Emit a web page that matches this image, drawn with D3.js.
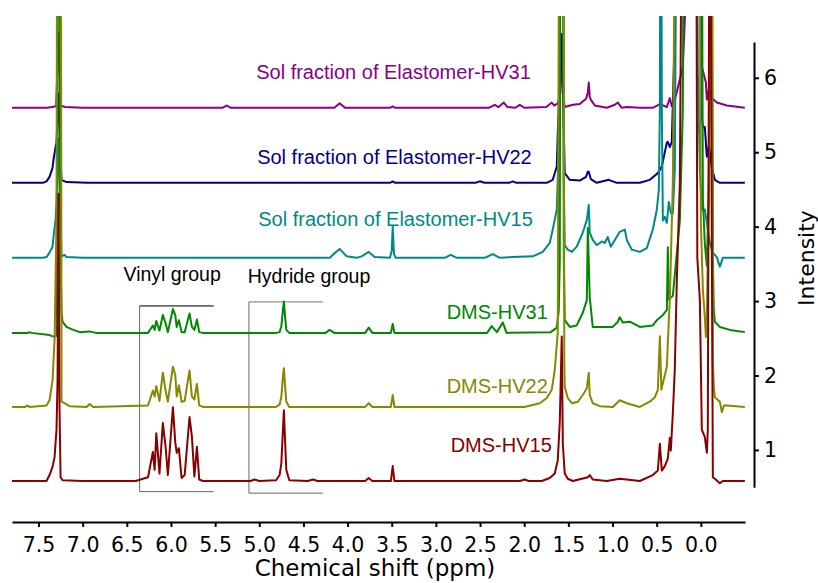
<!DOCTYPE html>
<html>
<head>
<meta charset="utf-8">
<script src="https://cdn.jsdelivr.net/npm/d3@7"></script>
<style>
  body { margin: 0; background: #fff; }
  svg { display: block; }
  .axis text { font-family: "DejaVu Sans", Verdana, sans-serif; font-size: 20.5px; fill: #000; }
  .axis path, .axis line { stroke: #000; stroke-width: 2; }
  .spectrum { fill: none; stroke-width: 2; stroke-linejoin: round; }
  .label { font-family: "Liberation Sans", Arial, sans-serif; font-size: 20px; }
  .group { font-family: "Liberation Sans", Arial, sans-serif; font-size: 19.5px; fill: #000; }
  .title { font-family: "DejaVu Sans", Verdana, sans-serif; font-size: 22px; fill: #000; }
</style>
</head>
<body>
<script>
// stacked 1H NMR spectra, intensities relative to each trace's own baseline

const names = ['Sol fraction of Elastomer-HV31', 'Sol fraction of Elastomer-HV22',
  'Sol fraction of Elastomer-HV15', 'DMS-HV31', 'DMS-HV22', 'DMS-HV15']
const colors = ['#880088', '#000088', '#008888', '#008800', '#888800', '#880000']
const offsets = [5.597, 4.589, 3.581, 2.573, 1.578, 0.583]

const xTicks = [7.5, 7.0, 6.5, 6.0, 5.5, 5.0, 4.5, 4.0, 3.5, 3.0, 2.5, 2.0, 1.5, 1.0, 0.5, 0.0]
const yTicks = [1, 2, 3, 4, 5, 6]

// vinyl multiplet (shared shift positions) for the DMS traces
const vinylPpm = [6.26, 6.205, 6.185, 6.166, 6.13, 6.092, 6.061, 6.035, 5.978, 5.951,
  5.935, 5.910, 5.88, 5.845, 5.790, 5.763, 5.735, 5.706, 5.68, 5.64]
const vinylHV31 = [0.0, 0.10, 0.04, 0.16, 0.03, 0.24, 0.13, 0.01, 0.32, 0.24,
  0.08, 0.17, 0.01, 0.01, 0.26, 0.08, 0.04, 0.18, 0.01, 0]
const vinylHV22 = [0.02, 0.22, 0.14, 0.28, 0.08, 0.46, 0.22, 0.07, 0.54, 0.43,
  0.14, 0.29, 0.07, 0.08, 0.49, 0.14, 0.10, 0.31, 0.02, 0]
const vinylHV15 = [0.05, 0.39, 0.15, 0.64, 0.10, 0.78, 0.46, 0.08, 0.99, 0.52,
  0.38, 0.44, 0.04, 0.08, 0.86, 0.60, 0.06, 0.46, 0.02, 0]

// Si-H signal
const hydridePpm = [4.81, 4.77, 4.75, 4.732, 4.721, 4.71, 4.694, 4.66]
const hydrideHV31 = [0, 0.01, 0.09, 0.31, 0.42, 0.25, 0.04, 0]
const hydrideHV22 = [0, 0.03, 0.14, 0.41, 0.52, 0.32, 0.07, 0]
const hydrideHV15 = [0.01, 0.08, 0.24, 0.69, 0.95, 0.60, 0.15, 0.01]

// [ppm, intensity]
const solHV31 = [[7.80,0],[7.40,0],[7.30,0.02],[7.273,1.0],[7.25,0.03],[7.20,0.01],[7.0,0],[5.42,0],[5.37,0.03],[5.32,0],
  [4.15,0],[4.09,0.06],[4.03,0],[3.52,0],[3.49,0.02],[3.46,0],[2.40,0],[2.334,0.04],[2.29,0.01],[2.232,0.07],[2.19,0.01],
  [2.10,0],[2.051,0.04],[2.0,0],[1.75,0.01],[1.688,0.07],[1.66,0.03],[1.62,0.06],[1.59,0.2],[1.575,0.8],[1.56,0.2],
  [1.541,0.01],[1.45,0.04],[1.371,0.05],[1.30,0.12],[1.280,0.2],[1.269,0.34],[1.258,0.15],[1.246,0.11],[1.201,0.03],
  [1.065,0],[0.974,0.04],[0.940,0.07],[0.895,0.0],[0.838,0.01],[0.691,0],[0.544,0],[0.464,0.05],[0.385,0.01],
  [0.351,0.13],[0.329,0.02],[0.295,0.1],[0.238,0.38],[0.204,0.55],[0.170,1.5],[0.147,8],[0.011,8],[-0.011,0.55],
  [-0.023,0.5],[-0.057,0.34],[-0.068,0.11],[-0.091,0.25],[-0.125,0.13],[-0.181,0.07],[-0.295,0.03],[-0.498,0]]

const solHV22 = [[7.80,0],[7.45,0],[7.409,0.02],[7.375,0.08],[7.341,0.2],[7.330,0.31],[7.307,0.48],[7.296,0.54],
  [7.273,1.2],[7.25,0.3],[7.239,0.04],[7.183,0.01],[6.95,0],[3.52,0],[3.489,0.02],[3.46,0],[2.55,0],[2.504,0.02],
  [2.45,0],[2.17,0],[2.130,0.02],[2.09,0],[1.745,0],[1.677,0.04],[1.631,0.22],[1.620,0.67],[1.575,2.0],[1.541,0.13],
  [1.484,0.04],[1.371,0.03],[1.30,0.08],[1.280,0.15],[1.269,0.15],[1.246,0.05],[1.178,0],[1.042,0.04],[0.952,0],
  [0.691,0],[0.578,0.04],[0.487,0.13],[0.442,0.22],[0.385,0.54],[0.374,0.55],[0.351,0.48],[0.329,0.55],[0.295,2.0],
  [0.272,8],[0.011,8],[0.0,1.0],[-0.023,0.74],[-0.045,0.75],[-0.068,0.35],[-0.091,0.5],[-0.125,0.2],[-0.159,0.04],
  [-0.215,0],[-0.498,0]]

const solHV15 = [[7.80,0],[7.45,0],[7.409,0.01],[7.375,0.07],[7.341,0.15],[7.330,0.28],[7.307,0.51],[7.296,0.74],
  [7.275,1.6],[7.25,0.5],[7.239,0.02],[7.205,0.04],[7.183,0.01],[7.0,0],[4.20,0],[4.169,0.04],[4.09,0.12],[4.01,0.02],
  [3.90,0],[3.841,0.02],[3.761,0.08],[3.693,0.01],[3.52,0],[3.50,0.1],[3.489,0.42],[3.475,0.05],[3.455,0],[2.90,0],
  [2.832,0.04],[2.764,0],[2.447,0],[2.356,0.05],[2.277,0],[2.130,0.01],[1.903,0.02],[1.790,0.08],[1.711,0.2],
  [1.677,0.38],[1.631,0.65],[1.609,1.5],[1.586,8],[1.563,8],[1.552,1.0],[1.541,0.17],[1.507,0.11],[1.461,0.08],
  [1.405,0.15],[1.337,0.34],[1.291,0.51],[1.269,0.71],[1.258,0.34],[1.224,0.24],[1.178,0.17],[1.122,0.22],[1.088,0.2],
  [1.054,0.28],[1.020,0.15],[0.974,0.24],[0.918,0.35],[0.861,0.38],[0.838,0.24],[0.782,0.11],[0.691,0.08],[0.612,0.13],
  [0.544,0.38],[0.498,0.65],[0.476,0.91],[0.464,2],[0.453,8],[0.442,2],[0.430,0.5],[0.408,0.55],[0.385,0.47],
  [0.363,0.75],[0.340,0.6],[0.317,0.6],[0.295,1.2],[0.261,8],[0.057,8],[0.034,2.5],[0.011,1.2],[-0.011,0.65],
  [-0.045,0.65],[-0.068,0.47],[-0.102,0.2],[-0.136,0.07],[-0.181,0.01],[-0.215,-0.12],[-0.249,0],[-0.498,0]]

const dmsHV31 = [[7.80,0],[7.62,0],[7.602,0.01],[7.58,0],[7.375,-0.03],[7.330,-0.05],[7.296,-0.04],[7.284,3],
  [7.267,10],[7.250,1.0],[7.239,0.27],[7.228,0.15],[7.183,0.08],[7.126,0.05],[7.035,0.01],[6.922,0.02],[6.85,0],
  [4.25,0],[4.203,0.04],[4.15,0],[3.80,0],[3.761,0.07],[3.72,0],[3.51,0],[3.489,0.12],[3.47,0],[2.42,0],[2.368,0.09],
  [2.31,0.01],[2.243,0.14],[2.20,0],[1.70,0.01],[1.631,0.07],[1.609,0.3],[1.597,1.0],[1.586,10],[1.563,10],
  [1.552,1.0],[1.541,0.17],[1.484,0.08],[1.405,0.1],[1.337,0.27],[1.291,0.44],[1.280,1.41],[1.258,0.48],[1.224,0.08],
  [1.144,0.08],[0.997,0.08],[0.940,0.15],[0.918,0.21],[0.884,0.14],[0.804,0.15],[0.691,0.08],[0.544,0.1],[0.498,0.17],
  [0.430,0.24],[0.385,0.31],[0.374,1.15],[0.363,0.45],[0.317,0.5],[0.238,1.5],[0.204,3],[0.181,10],[0.0,10],
  [-0.023,1.8],[-0.045,1.2],[-0.068,0.9],[-0.091,2],[-0.113,10],[-0.136,1],[-0.147,0.3],[-0.159,0.15],[-0.215,0.08],
  [-0.329,0.04],[-0.498,0.01]]

const dmsHV22 = [[7.80,0],[7.65,0],[7.624,0.02],[7.60,0],[7.409,0.02],[7.375,0.09],[7.352,0.27],[7.341,0.36],
  [7.318,0.9],[7.296,2.5],[7.284,10],[7.250,10],[7.239,0.07],[7.205,0.05],[7.149,0.01],[6.956,0],[6.922,0.04],[6.88,0],
  [3.80,0],[3.761,0.05],[3.72,0],[3.51,0],[3.489,0.16],[3.47,0],[2.0,0],[1.824,0.05],[1.745,0.12],[1.688,0.23],[1.654,0.5],
  [1.620,1.0],[1.597,10],[1.558,10],[1.546,0.6],[1.541,0.27],[1.507,0.12],[1.461,0.05],[1.393,0.07],[1.337,0.16],
  [1.291,0.25],[1.269,0.46],[1.258,0.16],[1.224,0.05],[1.144,0.01],[0.997,0.0],[0.918,0.09],[0.838,0.05],[0.691,0],
  [0.578,0.07],[0.521,0.13],[0.487,0.23],[0.464,0.95],[0.447,0.23],[0.430,0.32],[0.385,0.54],[0.374,0.86],
  [0.351,1.46],[0.317,3],[0.272,10],[0.023,10],[0.0,2.5],[-0.023,1.57],[-0.045,1.21],[-0.057,0.94],[-0.068,1.2],
  [-0.091,3],[-0.125,10],[-0.136,0.6],[-0.147,0.27],[-0.159,0.13],[-0.215,0.07],[-0.238,-0.07],[-0.261,0.02],
  [-0.295,0.02],[-0.498,0]]

const dmsHV15 = [[7.80,0],[7.409,0],[7.375,0.08],[7.341,0.19],[7.318,0.32],[7.296,0.69],[7.284,1.36],[7.273,3.86],
  [7.262,1.0],[7.250,0.05],[7.228,0.01],[7.0,0],[6.4,0],[5.10,0],[5.053,0.02],[5.0,0],[4.45,0],[4.392,0.02],[4.34,0],
  [3.80,0],[3.761,0.04],[3.72,0],[3.51,0],[3.489,0.2],[3.47,0],[2.05,0],[1.994,0.02],[1.95,0],[1.80,0],[1.711,0.04],
  [1.654,0.1],[1.620,0.28],[1.597,0.8],[1.575,1.94],[1.563,0.5],[1.541,0.1],[1.507,0.03],[1.450,0],[1.280,0.05],
  [1.258,0.08],[1.224,0.02],[1.065,0],[0.918,0.03],[0.691,0],[0.544,0.08],[0.487,0.14],[0.464,0.5],[0.442,0.14],
  [0.408,0.2],[0.374,0.3],[0.351,0.58],[0.340,0.41],[0.317,0.91],[0.295,1.5],[0.272,2.7],[0.238,4],[0.204,10],
  [0.057,10],[0.040,3],[0.011,2.43],[-0.011,0.69],[-0.045,0.59],[-0.068,0.38],[-0.079,0.69],[-0.102,10],[-0.125,3],
  [-0.136,0.05],[-0.159,0.03],[-0.215,-0.03],[-0.249,0],[-0.498,0]]

// layout
const W = 818, H = 583

const x = d3.scaleLinear().domain([7.8, -0.5]).range([12, 745])
const y = d3.scaleLinear().domain([0, 6.83]).range([524.4, 16])

const svg = d3.select('body').append('svg')
  .attr('width', W)
  .attr('height', H)

svg.append('clipPath')
  .attr('id', 'plot')
  .append('rect')
    .attr('x', x.range()[0])
    .attr('y', y.range()[1])
    .attr('width', x.range()[1] - x.range()[0])
    .attr('height', 505)

function withPeaks(base, ppm, h) {
  return base.concat(ppm.map((p, i) => [p, h[i]])).sort((a, b) => b[0] - a[0])
}

const spectra = [
  solHV31,
  solHV22,
  solHV15,
  withPeaks(withPeaks(dmsHV31, vinylPpm, vinylHV31), hydridePpm, hydrideHV31),
  withPeaks(withPeaks(dmsHV22, vinylPpm, vinylHV22), hydridePpm, hydrideHV22),
  withPeaks(withPeaks(dmsHV15, vinylPpm, vinylHV15), hydridePpm, hydrideHV15)
]

// group brackets
const brackets = [
  { text: 'Vinyl group', from: 6.355, to: 5.517, top: 2.935, bottom: 0.44, topColor: '#444', tx: 6.537, ty: 3.27 },
  { text: 'Hydride group', from: 5.117, to: 4.28, top: 2.99, bottom: 0.42, topColor: '#bbb', tx: 5.13, ty: 3.245 }
]

const br = svg.append('g').attr('class', 'brackets')
brackets.forEach((b) => {
  br.append('path')
    .attr('d', 'M' + x(b.to) + ',' + y(b.top) + 'H' + x(b.from) + 'V' + y(b.bottom) + 'H' + x(b.to))
    .attr('fill', 'none')
    .attr('stroke', '#666')
    .attr('stroke-width', 1)
  br.append('line')
    .attr('x1', x(b.from)).attr('x2', x(b.to))
    .attr('y1', y(b.top)).attr('y2', y(b.top))
    .attr('stroke', b.topColor)
    .attr('stroke-width', 1)
  br.append('text')
    .attr('class', 'group')
    .attr('x', x(b.tx))
    .attr('y', y(b.ty))
    .text(b.text)
})

const line = d3.line()
  .x((d) => x(d[0]))

svg.append('g')
  .attr('clip-path', 'url(#plot)')
  .selectAll('path')
  .data(spectra)
  .enter().append('path')
    .attr('class', 'spectrum')
    .attr('stroke', (d, i) => colors[i])
    .attr('d', (d, i) => line.y((p) => y(p[1] + offsets[i]))(d))

// trace labels, right aligned
const labelPos = [[1.926, 5.988], [1.915, 4.844], [1.903, 4.011], [1.733, 2.761], [1.733, 1.766], [1.688, 0.973]]

svg.append('g')
  .selectAll('text')
  .data(names)
  .enter().append('text')
    .attr('class', 'label')
    .attr('text-anchor', 'end')
    .attr('x', (d, i) => x(labelPos[i][0]))
    .attr('y', (d, i) => y(labelPos[i][1]))
    .attr('fill', (d, i) => colors[i])
    .text((d) => d)

// axes
const xAxis = d3.axisBottom(x)
  .tickValues(xTicks)
  .tickFormat(d3.format('.1f'))
  .tickSize(5)
  .tickSizeOuter(0)
  .tickPadding(10)

svg.append('g')
  .attr('class', 'x axis')
  .attr('transform', 'translate(0,522)')
  .call(xAxis)

const yAx = d3.scaleLinear().domain([0.5, 6.48]).range([y(0.5), y(6.48)])

svg.append('g')
  .attr('class', 'y axis')
  .attr('transform', 'translate(754,0)')
  .call(d3.axisRight(yAx).tickValues(yTicks).tickFormat(d3.format('d'))
    .tickSize(5).tickSizeOuter(0).tickPadding(5))

svg.append('text')
  .attr('class', 'title')
  .attr('text-anchor', 'middle')
  .attr('x', 375)
  .attr('y', 576)
  .style('font-size', '23px')
  .text('Chemical shift (ppm)')

svg.append('text')
  .attr('class', 'title')
  .attr('text-anchor', 'middle')
  .attr('transform', 'translate(814,258) rotate(-90)')
  .text('Intensity')
</script>
</body>
</html>
